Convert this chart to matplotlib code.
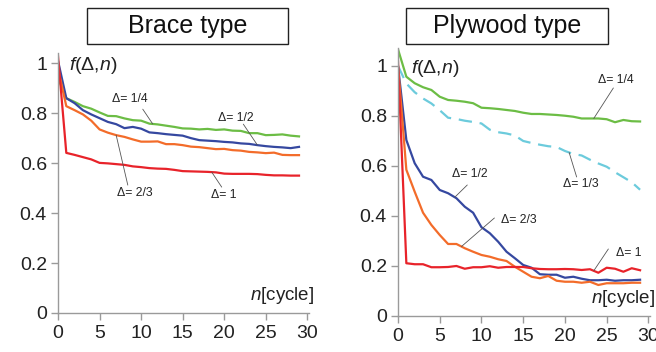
import matplotlib
matplotlib.use('Agg')
import matplotlib.pyplot as plt
from matplotlib.patches import Rectangle
import numpy as np

plt.rcParams['font.family'] = ['Liberation Sans', 'DejaVu Sans']
plt.rcParams['mathtext.fontset'] = 'custom'
plt.rcParams['mathtext.it'] = 'Liberation Sans:italic'
plt.rcParams['mathtext.rm'] = 'Liberation Sans'

n = np.arange(30)

# Brace type
brace_q14 = [0.94, 0.86, 0.845, 0.828, 0.818, 0.803, 0.789, 0.788, 0.779, 0.772,
             0.77, 0.758, 0.755, 0.75, 0.745, 0.739, 0.738, 0.735, 0.737, 0.733,
             0.735, 0.73, 0.729, 0.72, 0.72, 0.712, 0.713, 0.715, 0.71, 0.707]
brace_q12 = [1.01, 0.86, 0.84, 0.812, 0.795, 0.78, 0.765, 0.756, 0.74, 0.745,
             0.738, 0.723, 0.72, 0.716, 0.713, 0.71, 0.7, 0.692, 0.69, 0.688,
             0.685, 0.683, 0.679, 0.677, 0.672, 0.668, 0.665, 0.663, 0.66, 0.665]
brace_q23 = [0.98, 0.828, 0.812, 0.795, 0.77, 0.735, 0.722, 0.712, 0.705, 0.695,
             0.686, 0.686, 0.687, 0.676, 0.676, 0.672, 0.666, 0.664, 0.66, 0.656,
             0.657, 0.652, 0.65, 0.645, 0.643, 0.64, 0.642, 0.633, 0.632, 0.632]
brace_q1 = [1.03, 0.641, 0.633, 0.624, 0.615, 0.601, 0.599, 0.596, 0.593, 0.587,
            0.584, 0.58, 0.578, 0.577, 0.573, 0.568, 0.567, 0.566, 0.565, 0.563,
            0.558, 0.557, 0.557, 0.557, 0.556, 0.553, 0.551, 0.551, 0.55, 0.55]

# Plywood type
ply_q14 = [1.067, 0.957, 0.931, 0.915, 0.904, 0.877, 0.864, 0.861, 0.857, 0.851,
           0.833, 0.831, 0.828, 0.824, 0.82, 0.813, 0.808, 0.808, 0.806, 0.804,
           0.801, 0.797, 0.79, 0.79, 0.79, 0.787, 0.775, 0.784, 0.779, 0.778]
ply_q13 = [1.0, 0.93, 0.895, 0.87, 0.85, 0.823, 0.793, 0.788, 0.781, 0.776,
           0.77, 0.745, 0.735, 0.73, 0.722, 0.7, 0.692, 0.685, 0.679, 0.676,
           0.66, 0.648, 0.642, 0.625, 0.61, 0.597, 0.575, 0.555, 0.535, 0.505]
ply_q12 = [1.0, 0.704, 0.611, 0.557, 0.544, 0.504, 0.491, 0.471, 0.437, 0.413,
           0.355, 0.331, 0.297, 0.257, 0.231, 0.204, 0.193, 0.167, 0.165, 0.165,
           0.153, 0.157, 0.149, 0.143, 0.143, 0.145, 0.141, 0.143, 0.143, 0.145]
ply_q23 = [1.0, 0.585, 0.497, 0.413, 0.364, 0.324, 0.288, 0.288, 0.271, 0.257,
           0.244, 0.237, 0.227, 0.22, 0.197, 0.177, 0.157, 0.151, 0.16, 0.141,
           0.137, 0.137, 0.133, 0.137, 0.124, 0.131, 0.131, 0.131, 0.133, 0.133]
ply_q1 = [1.02, 0.211, 0.207, 0.207, 0.195, 0.195, 0.196, 0.2, 0.189, 0.195,
          0.195, 0.199, 0.193, 0.196, 0.196, 0.196, 0.191, 0.188, 0.187, 0.187,
          0.188, 0.187, 0.184, 0.187, 0.173, 0.193, 0.189, 0.177, 0.191, 0.183]

GREEN = '#6cbd45'
BLUE = '#3548a0'
ORANGE = '#f36c2a'
RED = '#e8232a'
CYAN = '#6ccbdc'
AXC = '#9a9a9a'

fig = plt.figure(figsize=(6.56, 3.52), dpi=100)
ax1 = fig.add_axes([0.0884, 0.1108, 0.3826, 0.738])
ax2 = fig.add_axes([0.6067, 0.1023, 0.3843, 0.760])


def style(ax, top):
    ax.set_xlim(0, 30.2)
    ax.set_ylim(0, top)
    ax.set_xticks(range(0, 31, 5))
    ax.set_yticks([0, 0.2, 0.4, 0.6, 0.8, 1.0])
    ax.set_yticklabels(['0', '0.2', '0.4', '0.6', '0.8', '1'])
    for s in ['top', 'right']:
        ax.spines[s].set_visible(False)
    for s in ['left', 'bottom']:
        ax.spines[s].set_color(AXC)
        ax.spines[s].set_linewidth(1.0)
    ax.tick_params(axis='both', direction='out', length=5, width=1, color=AXC,
                   labelsize=14, labelcolor='#222222')
    ax.tick_params(axis='y', pad=3)
    ax.tick_params(axis='x', pad=4)
    ax.set_facecolor('none')


style(ax1, 1.04)
style(ax2, 1.07)

lw = 1.6
ax1.plot(n, brace_q14, color=GREEN, lw=lw)
ax1.plot(n, brace_q12, color=BLUE, lw=lw)
ax1.plot(n, brace_q23, color=ORANGE, lw=lw)
ax1.plot(n, brace_q1, color=RED, lw=lw)

ax2.plot(n, ply_q14, color=GREEN, lw=lw)
ax2.plot(n, ply_q13, color=CYAN, lw=lw, dashes=(6, 3.5))
ax2.plot(n, ply_q12, color=BLUE, lw=lw)
ax2.plot(n, ply_q23, color=ORANGE, lw=lw)
ax2.plot(n, ply_q1, color=RED, lw=lw)


def label(ax, text, tpos, lstart, at_n, series):
    ax.text(tpos[0], tpos[1], text, fontsize=8.8, ha='center', va='center',
            color='#222222')
    yv = np.interp(at_n, n, series)
    ax.annotate('', xy=(at_n, yv), xytext=lstart,
                arrowprops=dict(arrowstyle='-', color='#555555', lw=0.6,
                                shrinkA=0, shrinkB=0))


label(ax1, 'Δ= 1/4', (8.6, 0.856), (10.2, 0.816), 11.4, brace_q14)
label(ax1, 'Δ= 1/2', (21.4, 0.78), (22.3, 0.756), 24.0, brace_q12)
label(ax1, 'Δ= 2/3', (9.2, 0.48), (8.4, 0.512), 7.0, brace_q23)
label(ax1, 'Δ= 1', (19.95, 0.472), (19.7, 0.504), 18.5, brace_q1)

label(ax2, 'Δ= 1/4', (26.1, 0.944), (25.8, 0.912), 23.45, ply_q14)
label(ax2, 'Δ= 1/3', (21.9, 0.528), (21.4, 0.556), 20.5, ply_q13)
label(ax2, 'Δ= 1/2', (8.6, 0.568), (8.3, 0.524), 6.8, ply_q12)
label(ax2, 'Δ= 2/3', (14.5, 0.384), (11.55, 0.392), 7.6, ply_q23)
label(ax2, 'Δ= 1', (27.7, 0.252), (25.2, 0.268), 23.45, ply_q1)

for ax, fx, fy in [(ax1, 1.3, 0.99), (ax2, 1.6, 0.99)]:
    ax.text(fx, fy, r'$f$(Δ,$n$)', fontsize=14, ha='left', va='center',
            color='#222222')
    ax.text(30.8, 0.07, r'$n$[cycle]', fontsize=13.5, ha='right', va='center',
            color='#222222', clip_on=False)

# title boxes
for x0, x1, title in [(87, 288, 'Brace type'), (406, 608, 'Plywood type')]:
    W, H = 656, 352
    fig.patches.append(Rectangle((x0 / W, 1 - 44 / H), (x1 - x0) / W, 36 / H,
                                 transform=fig.transFigure, fill=False,
                                 edgecolor='#222222', lw=1.0))
    fig.text((x0 + x1) / 2 / W, 1 - 26 / H, title, fontsize=18, ha='center',
             va='center', color='#111111')

fig.savefig('out.png', dpi=100)
